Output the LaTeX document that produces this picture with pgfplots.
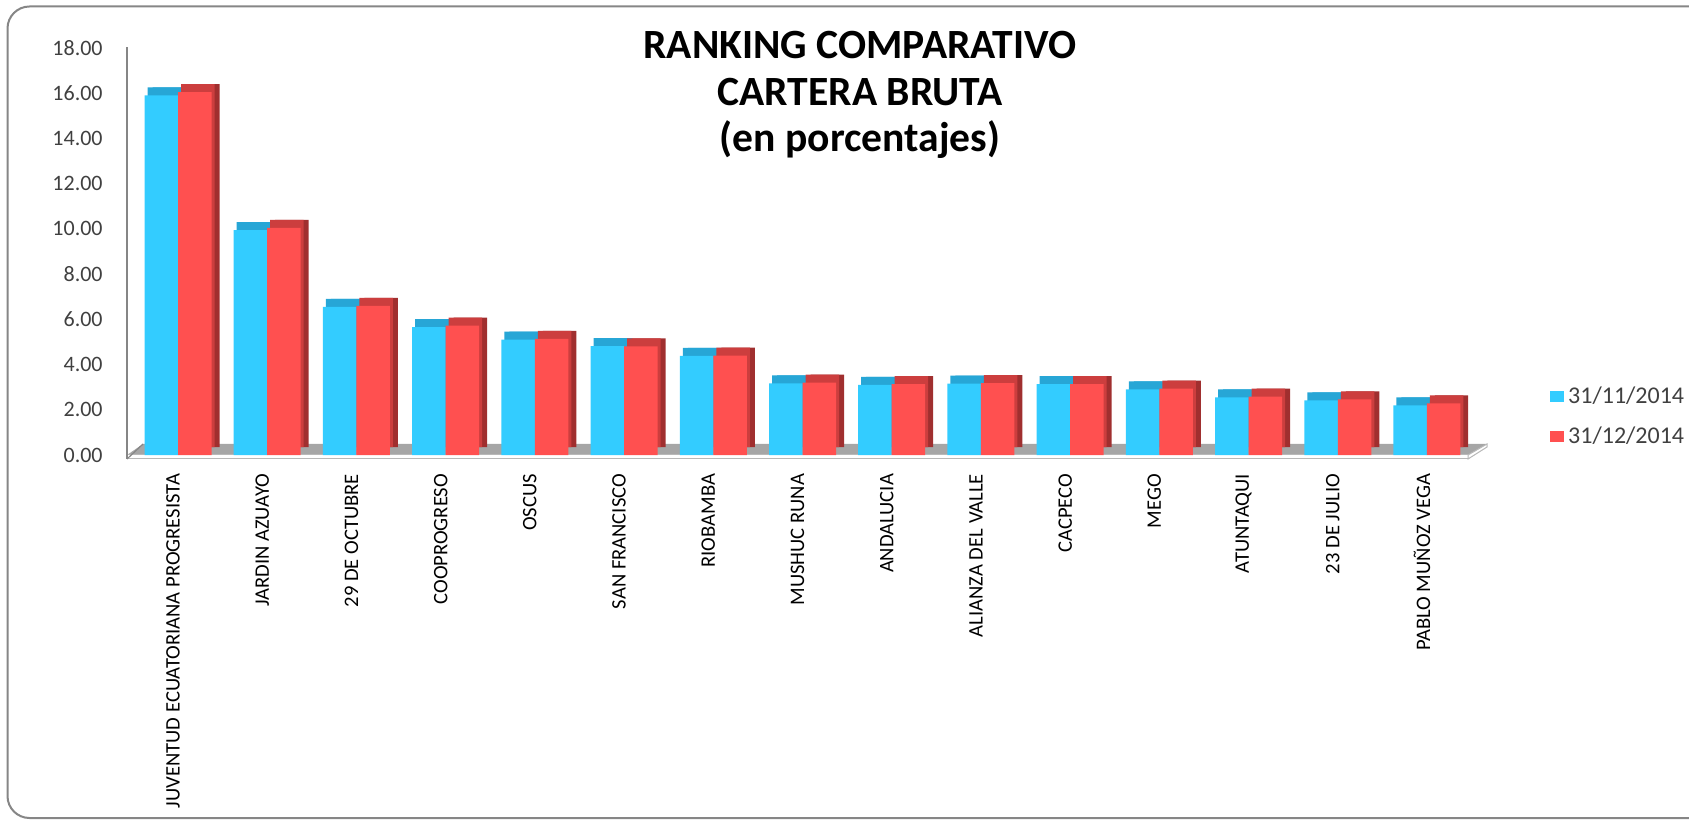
\documentclass[border=0pt]{standalone}
\usepackage{fontspec}
\setmainfont{Carlito}
\usepackage{pgfplots}
\usepackage{pgfplotstable}
\pgfplotsset{compat=1.18}

\definecolor{cBlue}{HTML}{33CCFF}
\definecolor{cBlueTop}{HTML}{27A6D6}
\definecolor{cRed}{HTML}{FF5050}
\definecolor{cRedTop}{HTML}{CC3E3E}
\definecolor{cRedSide}{HTML}{A02F2F}
\definecolor{cFloor}{HTML}{A6A6A6}
\definecolor{cFrame}{HTML}{868686}
\definecolor{cText}{HTML}{404040}

% porcentajes: a = 31/11/2014, b = 31/12/2014
\pgfplotstableread{
x a b
0 15.90 16.05
1 9.95 10.05
2 6.55 6.60
3 5.65 5.72
4 5.10 5.14
5 4.82 4.80
6 4.38 4.40
7 3.17 3.20
8 3.10 3.14
9 3.16 3.18
10 3.14 3.14
11 2.90 2.94
12 2.55 2.58
13 2.42 2.46
14 2.20 2.28
}\cartera

\begin{document}
\begin{tikzpicture}
\useasboundingbox (0,0) rectangle (844.5pt,-411pt);
% pixel grid of the reference: 1 px = 0.5pt, y downwards
\begin{scope}[x=0.5pt,y=-0.5pt]
  % floor
  \fill[cFloor] (127,455) -- (143,444) -- (1487,444) -- (1468,455) -- cycle;
  \filldraw[fill=white,draw=cFloor!80,line width=0.5pt] (127,455) rectangle (1468,459);
  \filldraw[fill=white,draw=cFloor!80,line width=0.5pt] (1468,455) -- (1487,444) -- (1487,447) -- (1468,459) -- cycle;
  \draw[cFrame,line width=0.8pt] (127,459) -- (127,47);
  \draw[cFrame,line width=0.6pt] (127,459) -- (143,444);
  % chart frame
  \draw[rounded corners=11pt,cFrame,line width=1pt] (7.5,6.5) rectangle (1720,818);
  % title
  \node[anchor=north,align=center,inner sep=0pt,
        font=\fontsize{20.8}{23.25}\selectfont\bfseries]
    at (860,31) {RANKING COMPARATIVO\\CARTERA BRUTA\\(en porcentajes)};
\end{scope}

\begin{axis}[
  at={(63.5pt,-227.5pt)}, anchor=south west,
  scale only axis,
  width=670.5pt, height=203.5pt,
  xmin=-0.572, xmax=14.46,
  ymin=0, ymax=18,
  ybar,
  axis line style={draw=none},
  tick style={draw=none},
  ytick={0,2,...,18},
  yticklabel style={anchor=east,inner sep=0pt,xshift=-12pt,
    font=\fontsize{11}{13}\selectfont,text=cText,
    /pgf/number format/.cd,fixed,fixed zerofill,precision=2,assume math mode=true},
  xtick={0,...,14},
  xticklabels={JUVENTUD ECUATORIANA PROGRESISTA,JARDIN AZUAYO,29 DE OCTUBRE,COOPROGRESO,OSCUS,SAN FRANCISCO,RIOBAMBA,MUSHUC RUNA,ANDALUCIA,ALIANZA DEL VALLE,CACPECO,MEGO,ATUNTAQUI,23 DE JULIO,PABLO MUÑOZ VEGA},
  xticklabel style={xshift=-2.5pt,yshift=-5pt,rotate=90,anchor=east,inner sep=0pt,
    font=\fontsize{10.3}{12}\selectfont,text=black},
  legend image code/.code={\fill[#1] (0pt,-2.75pt) rectangle (7pt,2.75pt);},
  legend style={at={(axis description cs:1.061,0.0946)},anchor=west,
    draw=none,fill=none,inner sep=0pt,row sep=6pt,
    font=\fontsize{12}{14}\selectfont,text=cText,cells={anchor=west}},
]
  % depth faces: side, then top
  \addplot[forget plot,fill=cBlueTop,draw=none,bar width=16.75pt,bar shift=-8.375pt,xshift=4pt,yshift=4pt]
    table[x=x,y=a]{\cartera};
  \addplot[forget plot,fill=cRedSide,draw=none,bar width=16.75pt,bar shift=8.375pt,xshift=4pt,yshift=4pt]
    table[x=x,y=b]{\cartera};
  \addplot[forget plot,fill=cBlueTop,draw=none,bar width=16.75pt,bar shift=-8.375pt,xshift=1.5pt,yshift=4pt]
    table[x=x,y=a]{\cartera};
  \addplot[forget plot,fill=cRedTop,draw=none,bar width=16.75pt,bar shift=8.375pt,xshift=1.5pt,yshift=4pt]
    table[x=x,y=b]{\cartera};
  % front faces
  \addplot[fill=cBlue,draw=none,bar width=16.75pt,bar shift=-8.375pt]
    table[x=x,y=a]{\cartera};
  \addplot[fill=cRed,draw=none,bar width=16.75pt,bar shift=8.375pt]
    table[x=x,y=b]{\cartera};
  \legend{31/11/2014,31/12/2014}
\end{axis}
\end{tikzpicture}
\end{document}
